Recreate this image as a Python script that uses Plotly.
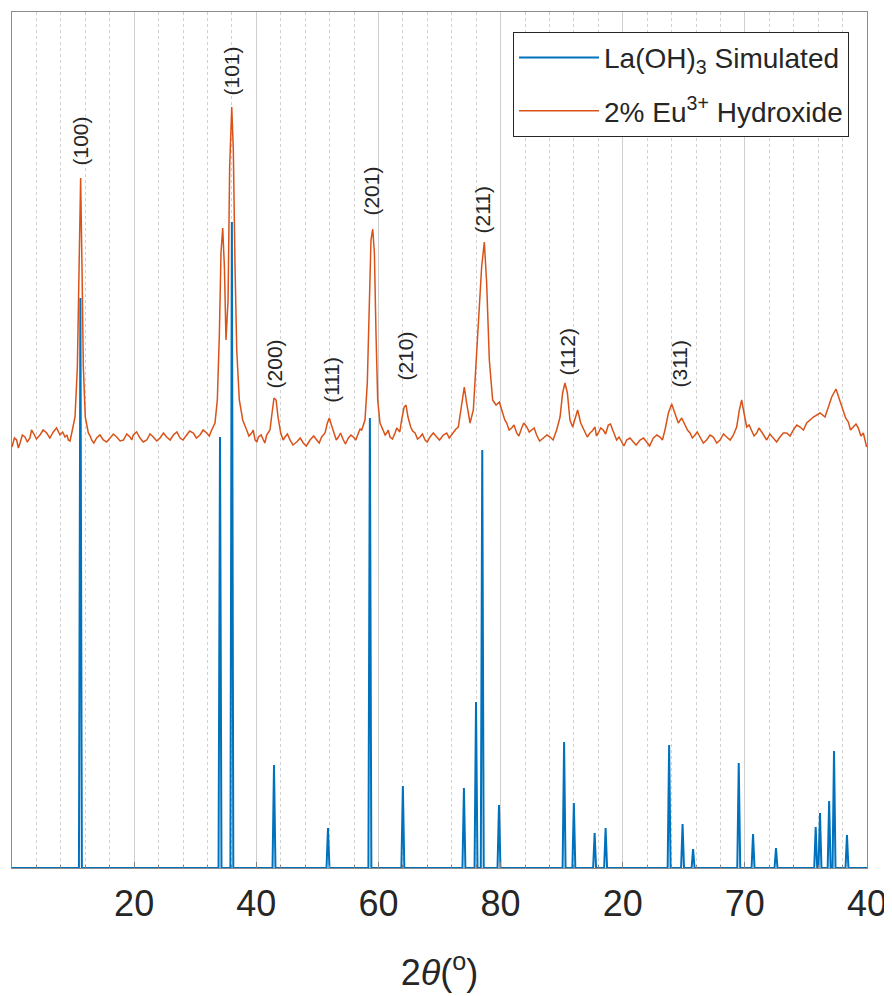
import plotly.graph_objects as go

# ---- Simulated La(OH)3 reflections (2theta in degrees, relative intensity) ----
sim_pos = [15.60, 27.03, 28.00, 31.45, 35.87, 39.30, 42.00, 47.00, 47.99, 48.50,
           49.87, 55.20, 56.00, 57.70, 58.60, 63.80, 64.90, 65.76, 69.50, 70.67,
           72.55, 75.80, 76.15, 76.90, 77.30, 78.36]
sim_int = [570, 431, 646, 103, 40, 450, 82, 80, 166, 418,
           63, 126, 65, 35, 40, 123, 44, 19, 105, 34,
           20, 41, 55, 67, 117, 33]

# ---- Measured 2% Eu3+ hydroxide pattern (main trace points) ----
exp_x = [10.0, 10.38, 10.66, 11.06, 11.47, 11.75, 12.29, 12.84, 13.38, 13.93,
         14.34, 14.61, 14.89, 15.16, 15.35, 15.51, 15.62, 15.73, 15.84, 16.0,
         16.25, 16.52, 16.93, 17.48, 18.02, 18.57, 19.12, 19.66, 19.93, 20.48,
         21.03, 21.57, 22.12, 22.66, 23.21, 23.76, 24.3, 24.85, 25.39, 25.94,
         26.35, 26.62, 26.81, 26.98, 27.11, 27.25, 27.39, 27.52, 27.69, 27.82,
         27.99, 28.12, 28.26, 28.4, 28.61, 28.89, 29.21, 29.62, 29.9, 30.17,
         30.58, 30.85, 31.12, 31.29, 31.45, 31.62, 31.78, 32.0, 32.35, 32.76,
         33.31, 33.85, 34.4, 34.95, 35.35, 35.63, 35.82, 35.98, 36.15, 36.36,
         36.72, 37.13, 37.54, 37.95, 38.36, 38.63, 38.9, 39.09, 39.26, 39.39,
         39.53, 39.67, 39.8, 39.94, 40.13, 40.4, 40.68, 40.95, 41.36, 41.63,
         41.9, 42.1, 42.26, 42.42, 42.64, 43.0, 43.41, 43.82, 44.22, 44.77,
         45.32, 45.59, 46.13, 46.54, 46.81, 47.03, 47.22, 47.5, 47.77, 48.04,
         48.26, 48.45, 48.67, 48.86, 49.08, 49.35, 49.63, 49.9, 50.17, 50.5,
         50.91, 51.32, 51.73, 52.14, 52.55, 52.95, 53.5, 54.05, 54.59, 54.87,
         55.08, 55.27, 55.47, 55.68, 55.9, 56.09, 56.31, 56.56, 56.91, 57.32,
         57.73, 58.0, 58.41, 58.82, 59.18, 59.5, 59.91, 60.32, 60.87, 61.42,
         61.96, 62.51, 63.05, 63.46, 63.74, 64.01, 64.28, 64.55, 64.83, 65.1,
         65.51, 65.92, 66.33, 66.87, 67.42, 67.97, 68.51, 69.06, 69.33, 69.55,
         69.74, 69.93, 70.15, 70.56, 70.97, 71.38, 71.79, 72.33, 72.88, 73.42,
         73.97, 74.52, 75.06, 75.61, 76.16, 76.56, 76.84, 77.11, 77.46, 77.74,
         78.06, 78.47, 78.88, 79.29, 79.7, 79.97]
exp_y = [421, 428, 425, 431, 430, 435, 433, 435, 436, 433,
         431, 428, 435, 451, 501, 601, 690, 601, 501, 451,
         435, 428, 430, 428, 430, 431, 428, 431, 433, 430,
         428, 431, 430, 431, 433, 430, 433, 435, 433, 435,
         438, 445, 468, 535, 615, 640, 601, 528, 568, 701,
         761, 718, 601, 518, 468, 448, 438, 435, 428, 431,
         428, 433, 438, 455, 470, 468, 451, 435, 431, 428,
         426, 425, 428, 428, 431, 435, 445, 450, 443, 435,
         431, 428, 430, 431, 435, 438, 448, 485, 568, 628,
         639, 615, 535, 468, 445, 438, 435, 431, 435, 438,
         448, 461, 463, 451, 441, 435, 431, 428, 431, 431,
         433, 435, 436, 441, 461, 481, 465, 445, 458, 518,
         568, 601, 626, 585, 508, 468, 463, 466, 455, 445,
         440, 435, 440, 441, 438, 433, 430, 431, 438, 451,
         475, 485, 475, 448, 441, 448, 458, 445, 436, 435,
         441, 435, 438, 443, 438, 428, 426, 428, 426, 428,
         426, 430, 431, 438, 455, 464, 455, 445, 450, 443,
         435, 433, 431, 428, 431, 428, 431, 433, 441, 458,
         468, 455, 441, 438, 435, 436, 428, 430, 431, 435,
         438, 441, 445, 451, 455, 451, 461, 471, 479, 468,
         455, 446, 441, 440, 435, 421]

# ---- extra baseline wiggle points read between the main points ----
noise_x = [10.2, 10.52, 10.85, 11.25, 11.6, 12.0, 12.55, 13.1, 13.65, 14.15, 14.5, 14.75,
           16.4, 16.7, 17.2, 17.75, 18.3, 18.85, 19.4, 19.8, 20.2, 20.75, 21.3, 21.85,
           22.4, 22.95, 23.5, 24.0, 24.55, 25.1, 25.65, 26.15,
           29.4, 29.75, 30.05, 30.4, 30.7,
           32.2, 32.55, 33.0, 33.6, 34.1, 34.7, 35.15, 35.5,
           36.55, 36.9, 37.3, 37.75, 38.15, 38.5,
           40.25, 40.55, 40.8, 41.15, 41.5, 41.75,
           42.8, 43.2, 43.6, 44.0, 44.5, 45.0, 45.8, 46.35,
           50.35, 50.7, 51.1, 51.5, 51.9, 52.35, 52.75, 53.2, 53.8, 54.3,
           57.1, 57.5, 57.85, 58.2, 58.6, 59.0,
           59.7, 60.1, 60.6, 61.1, 61.7, 62.2, 62.8, 63.25,
           65.3, 65.7, 66.1, 66.6, 67.15, 67.7, 68.25, 68.8,
           70.35, 70.75, 71.15, 71.6, 72.05, 72.6, 73.15, 73.7, 74.25, 74.8, 75.35,
           78.25, 78.65, 79.1, 79.5]
noise_y = [430, 420, 433, 426, 438, 429, 438, 430, 440, 436, 433, 427,
           432, 425, 433, 426, 434, 427, 434, 428, 436, 426, 434, 427,
           435, 428, 436, 428, 437, 430, 438, 432,
           432, 438, 426, 433, 425,
           428, 434, 423, 430, 422, 432, 425, 433,
           428, 435, 424, 433, 428, 439,
           441, 433, 438, 429, 440, 436,
           437, 429, 434, 426, 435, 428, 430, 439,
           448, 438, 443, 432, 445, 436, 440, 427, 433, 428,
           431, 437, 432, 440, 434, 444,
           431, 422, 430, 423, 430, 422, 433, 428,
           438, 430, 436, 425, 433, 425, 434, 428,
           443, 432, 440, 432, 434, 426, 435, 432, 443, 438, 448,
           450, 438, 444, 432]

# ---- Miller index labels ----
hkl_text = ["(100)", "(101)", "(200)", "(111)", "(201)", "(210)", "(211)", "(112)", "(311)"]
hkl_x = [15.57, 28.01, 31.53, 36.10, 39.40, 42.18, 48.56, 55.44, 64.61]
hkl_y = [700, 771, 478, 463, 650, 485, 633, 490, 478]

# ---- x-axis ticks as printed ----
tick_vals = [20, 30, 40, 50, 60, 70, 80]
tick_text = ["20", "40", "60", "80", "20", "70", "40"]

BLUE = "#0072BD"
ORANGE = "#D95319"
FONT = "Liberation Sans, Arial, Helvetica"

# stick pattern built from the reflection list
half_w = 0.12
sx, sy = [10.0], [0]
for p, h in zip(sim_pos, sim_int):
    sx += [p - half_w, p, p + half_w]
    sy += [0, h, 0]
sx.append(80.0)
sy.append(0)

pts = sorted(zip(exp_x + noise_x, exp_y + noise_y))
ox = [p[0] for p in pts]
oy = [p[1] for p in pts]

fig = go.Figure()
fig.add_trace(go.Scatter(x=sx, y=sy, mode="lines", name="La(OH)<sub>3</sub> Simulated",
                         legendgroup="a", line=dict(color=BLUE, width=2)))
fig.add_trace(go.Scatter(x=ox, y=oy, mode="lines", name="2% Eu<sup>3+</sup> Hydroxide",
                         legendgroup="b", line=dict(color=ORANGE, width=1.5)))

for t, x, y in zip(hkl_text, hkl_x, hkl_y):
    fig.add_annotation(x=x, y=y, text=t, textangle=-90, showarrow=False,
                       xanchor="center", yanchor="bottom",
                       font=dict(size=21, color="#262626", family=FONT))

fig.update_xaxes(range=[10, 80], tickvals=tick_vals, ticktext=tick_text,
                 automargin=False,
                 showgrid=True, gridcolor="#cfcfcf", gridwidth=1,
                 minor=dict(dtick=2, showgrid=True, gridcolor="#d0d0d0", griddash="dot",
                            ticks="inside", ticklen=3, tickcolor="#808080"),
                 ticks="inside", ticklen=6, tickcolor="#808080",
                 showline=True, linecolor="#8c8c8c", linewidth=1, mirror=True,
                 zeroline=False,
                 tickfont=dict(size=36, color="#262626", family=FONT),
                 ticklabelstandoff=4,
                 title=dict(text="2<i>θ</i>(<sup>o</sup>)", standoff=36,
                            font=dict(size=36, color="#262626", family=FONT)))
fig.update_yaxes(range=[0, 856], showticklabels=False, showgrid=False, ticks="",
                 automargin=False,
                 showline=True, linecolor="#8c8c8c", linewidth=1, mirror=True, zeroline=False)

# the page body adds an 8px offset, so the figure is sized to 884x988
fig.update_layout(width=884, height=988,
                  margin=dict(l=4, r=25, t=4, b=128),
                  plot_bgcolor="white", paper_bgcolor="white",
                  font=dict(family=FONT, color="#262626"),
                  legend=dict(x=0.979, y=0.977, xanchor="right", yanchor="top",
                              bgcolor="white", bordercolor="#262626", borderwidth=1,
                              font=dict(size=28, color="#262626"), itemwidth=80,
                              tracegroupgap=14))
fig.write_html("out.html")
